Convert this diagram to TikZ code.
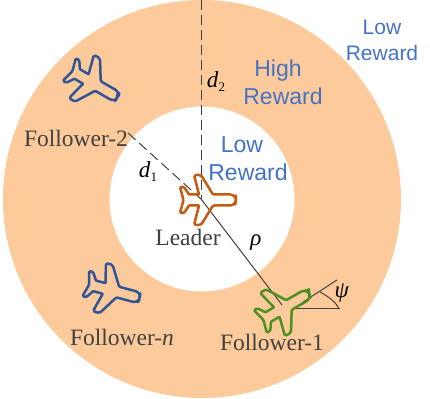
\documentclass[tikz,border=0pt]{standalone}
\usepackage{fontspec}
\setmainfont{Liberation Serif}
\newfontfamily\blufont{Liberation Sans}
\definecolor{ring}{HTML}{FDCB9B}
\definecolor{labelgray}{HTML}{404040}
\definecolor{rewardblue}{HTML}{4472C4}
\definecolor{leaderc}{HTML}{C55A11}
\definecolor{followerg}{HTML}{4E8F22}
\definecolor{followerb}{HTML}{2F5597}
\tikzset{
  lab/.style={text=labelgray,font=\fontsize{23.5}{24}\selectfont,inner sep=0pt},
  rew/.style={text=rewardblue,font=\blufont\fontsize{23}{28}\selectfont,inner sep=0pt,align=center},
  rewsmall/.style={rew,font=\blufont\fontsize{21}{26}\selectfont},
  sym/.style={text=black,font=\fontsize{23}{24}\selectfont,inner sep=0pt},
  guide/.style={draw=labelgray,line width=1pt},
  dash guide/.style={guide,dash pattern=on 10pt off 5pt},
  planeline/.style={line width=2.5pt,line join=round}
}
\newcommand{\planeat}[4]{%
  \draw[planeline,draw=#4,shift={(#1,#2)},rotate=#3]
    [rounded corners=4.5pt] (31,0) -- (30,5.5) [rounded corners=1.2pt] -- (8,5.5) [rounded corners=1.8pt] -- (-4,25) -- (-11,25)
    [rounded corners=0.5pt] -- (-6,5.5) -- (-16,5.5) [rounded corners=1.2pt] -- (-21,13) -- (-25,13)
    -- (-21.5,0) -- (-25,-13) -- (-21,-13) [rounded corners=0.5pt] -- (-16,-5.5) -- (-6,-5.5)
    [rounded corners=1.8pt] -- (-11,-25) -- (-4,-25) [rounded corners=1.2pt] -- (8,-5.5) [rounded corners=4.5pt] -- (30,-5.5) -- (31,0) -- cycle;}
\begin{document}
\begin{tikzpicture}[x=1pt,y=1pt]
\useasboundingbox (0,0) rectangle (430,398);
\begin{scope}
\clip (0,0) rectangle (430,398);
\fill[ring] (202,199) circle (199);
\fill[white] (202,199) circle (92.5);
\end{scope}
\coordinate (center) at (201,199);
\coordinate (dtop) at (201,398);
\coordinate (done) at (128,265);
\coordinate (foll) at (282,93);
\coordinate (hstart) at (292,89);
\coordinate (hend) at (340,89);
\coordinate (istart) at (303,96);
\coordinate (iend) at (337,118);
\draw[dash guide] (dtop) -- (center);
\draw[dash guide] (done) -- (center);
\draw[guide] (center) -- (foll);
\draw[guide] (hstart) -- (hend);
\draw[guide] (istart) -- (iend);
\draw[guide] (320,106) .. controls (329,101) and (336,96) .. (339,89);
\planeat{205}{198}{0}{leaderc}
\planeat{282}{89}{30}{followerg}
\planeat{91}{316}{-30}{followerb}
\planeat{110}{108}{-15}{followerb}
\node[lab] (follower2) at (76,260) {Follower-2};
\node[lab] (followern) at (122,61) {Follower-\textit{n}};
\node[lab] (follower1) at (272,56) {Follower-1};
\node[lab] (leader) at (188,161) {Leader};
\node[rewsmall] (lowout) at (382,358) {Low\\Reward};
\node[rew] (high) at (283,316) {\hspace*{-10pt}High\\Reward};
\node[rew] (lowin) at (248,239) {\hspace*{-12pt}Low\\Reward};
\node[sym] (d1) at (148,226) {\textit{d}\raisebox{-4pt}{\fontsize{13}{14}\selectfont 1}};
\node[sym] (d2) at (216,316) {\textit{d}\raisebox{-4pt}{\fontsize{13}{14}\selectfont 2}};
\node[sym] (rho) at (256,155) {\textit{ρ}};
\node[sym] (psi) at (342,105) {\textit{ψ}};
\end{tikzpicture}
\end{document}
